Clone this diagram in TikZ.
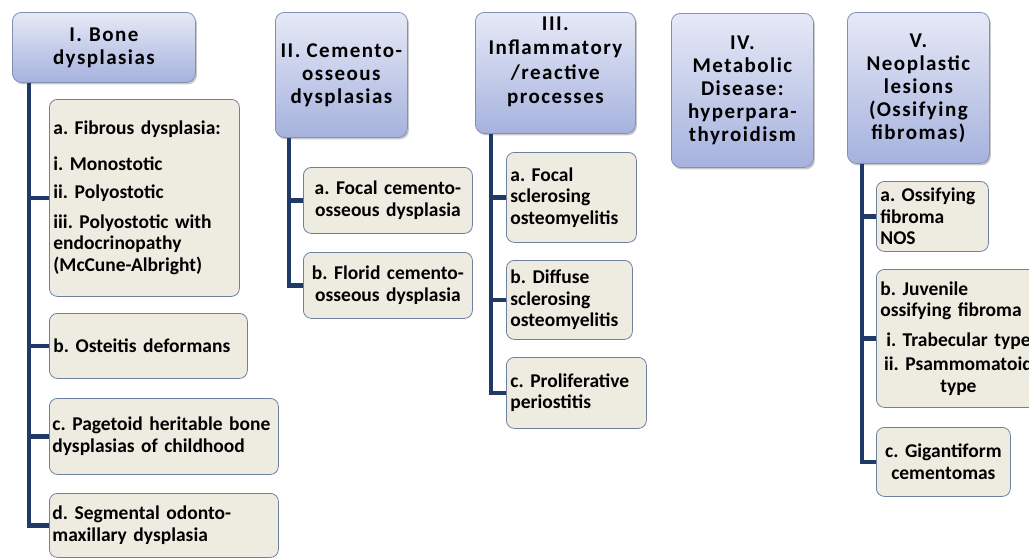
\documentclass[tikz,border=0pt]{standalone}
\usepackage{fontspec}
\setmainfont{Carlito}
\newfontfamily\hdrfam[LetterSpace=7]{Carlito}
\usetikzlibrary{shadows}
\definecolor{hdrtop}{RGB}{230,233,246}
\definecolor{hdrbot}{RGB}{166,178,222}
\definecolor{hdrborder}{RGB}{130,144,178}
\definecolor{kidfill}{RGB}{238,236,225}
\definecolor{kidborder}{RGB}{110,128,160}
\definecolor{connc}{RGB}{31,58,102}
\tikzset{
  hdr/.style={draw=hdrborder, line width=0.8pt, rounded corners=9pt,
    top color=hdrtop, bottom color=hdrbot, align=center, anchor=north west,
    inner sep=0pt,
    font=\frenchspacing\hdrfam\bfseries\fontsize{21}{23}\selectfont,
    drop shadow={shadow xshift=1.5pt, shadow yshift=-2pt, opacity=0.35, fill=black!60}},
  kid/.style={draw=kidborder, line width=0.8pt, rounded corners=8pt,
    fill=kidfill, anchor=north west, inner xsep=4pt, inner ysep=0pt,
    font=\frenchspacing\bfseries\fontsize{19.5}{21.5}\selectfont},
  conn/.style={draw=connc, line width=4.2pt}
}
\begin{document}
\begin{tikzpicture}[x=1pt,y=-1pt]
\useasboundingbox (0,0) rectangle (1029,560);
\clip (0,0) rectangle (1029,560);
\fill[white] (0,0) rectangle (1029,560);

% ---------- I ----------
\node[hdr, minimum width=183pt, minimum height=70pt] (h1) at (12,12) {I.\,\,Bone\\dysplasias};
\node[kid, minimum height=197pt, text width=182pt, align=left] (k1a) at (49,99)
  {a. Fibrous dysplasia:\\[14pt]i. Monostotic\\[7pt]ii. Polyostotic\\[8pt]iii. Polyostotic with\\endocrinopathy\\(McCune-Albright)};
\node[kid, minimum height=65pt, text width=190pt, align=left] (k1b) at (49,313) {b. Osteitis deformans};
\node[kid, minimum height=76pt, text width=223pt, inner xsep=3pt, align=left] (k1c) at (49,398) {c. Pagetoid heritable bone\\dysplasias of childhood};
\node[kid, minimum height=64pt, text width=223pt, inner xsep=3pt, align=left] (k1d) at (49,493) {d. Segmental odonto-\\maxillary dysplasia};
\coordinate (t1) at ([xshift=17pt]h1.south west);
\draw[conn] (t1) |- (k1d.west);
\draw[conn] (t1) |- (k1a.west);
\draw[conn] (t1) |- (k1b.west);
\draw[conn] (t1) |- (k1c.west);

% ---------- II ----------
\node[hdr, minimum width=132pt, minimum height=125pt] (h2) at (275,12) {II. Cemento-\\osseous\\dysplasias};
\node[kid, minimum height=66pt, text width=161pt, align=center] (k2a) at (303,167) {a. Focal cemento-\\osseous dysplasia};
\node[kid, minimum height=66pt, text width=161pt, align=center] (k2b) at (303,252) {b. Florid cemento-\\osseous dysplasia};
\coordinate (t2) at ([xshift=14pt]h2.south west);
\draw[conn] (t2) |- (k2b.west);
\draw[conn] (t2) |- (k2a.west);

% ---------- III ----------
\node[hdr, minimum width=160pt, minimum height=121pt] (h3) at (475,12) {III.\\[1.5pt]Inflammatory\\[1.5pt]/reactive\\[1.5pt]processes\\[2pt]\mbox{}};
\node[kid, minimum height=90pt, text width=122pt, align=left] (k3a) at (506,152) {a. Focal\\sclerosing\\osteomyelitis};
\node[kid, minimum height=79pt, text width=118pt, align=left] (k3b) at (506,260) {b. Diffuse\\sclerosing\\osteomyelitis};
\node[kid, minimum height=71pt, text width=132pt, align=left] (k3c) at (506,357) {c. Proliferative\\periostitis};
\coordinate (t3) at ([xshift=16pt]h3.south west);
\draw[conn] (t3) |- (k3c.west);
\draw[conn] (t3) |- (k3a.west);
\draw[conn] (t3) |- (k3b.west);

% ---------- IV ----------
\node[hdr, minimum width=142pt, minimum height=154pt] (h4) at (671,13) {IV.\\Metabolic\\Disease:\\hyperpara-\\thyroidism};

% ---------- V ----------
\node[hdr, minimum width=142pt, minimum height=151pt] (h5) at (847,12) {V.\\Neoplastic\\lesions\\(Ossifying\\fibromas)};
\node[kid, minimum height=70pt, text width=104pt, align=left] (k5a) at (876,181) {a. Ossifying\\fibroma\\NOS};
\node[kid, minimum height=138pt, text width=156pt, align=center] (k5b) at (876,269)
  {\makebox[\linewidth][l]{b. Juvenile}\\\makebox[\linewidth][l]{ossifying fibroma}\\[8pt]i. Trabecular type\\[3pt]ii. Psammomatoid\\type};
\node[kid, minimum height=69pt, text width=126pt, align=center] (k5c) at (876,427) {c. Gigantiform\\cementomas};
\coordinate (t5) at ([xshift=15pt]h5.south west);
\draw[conn] (t5) |- (k5c.west);
\draw[conn] (t5) |- (k5a.west);
\draw[conn] (t5) |- (k5b.west);
\end{tikzpicture}
\end{document}
